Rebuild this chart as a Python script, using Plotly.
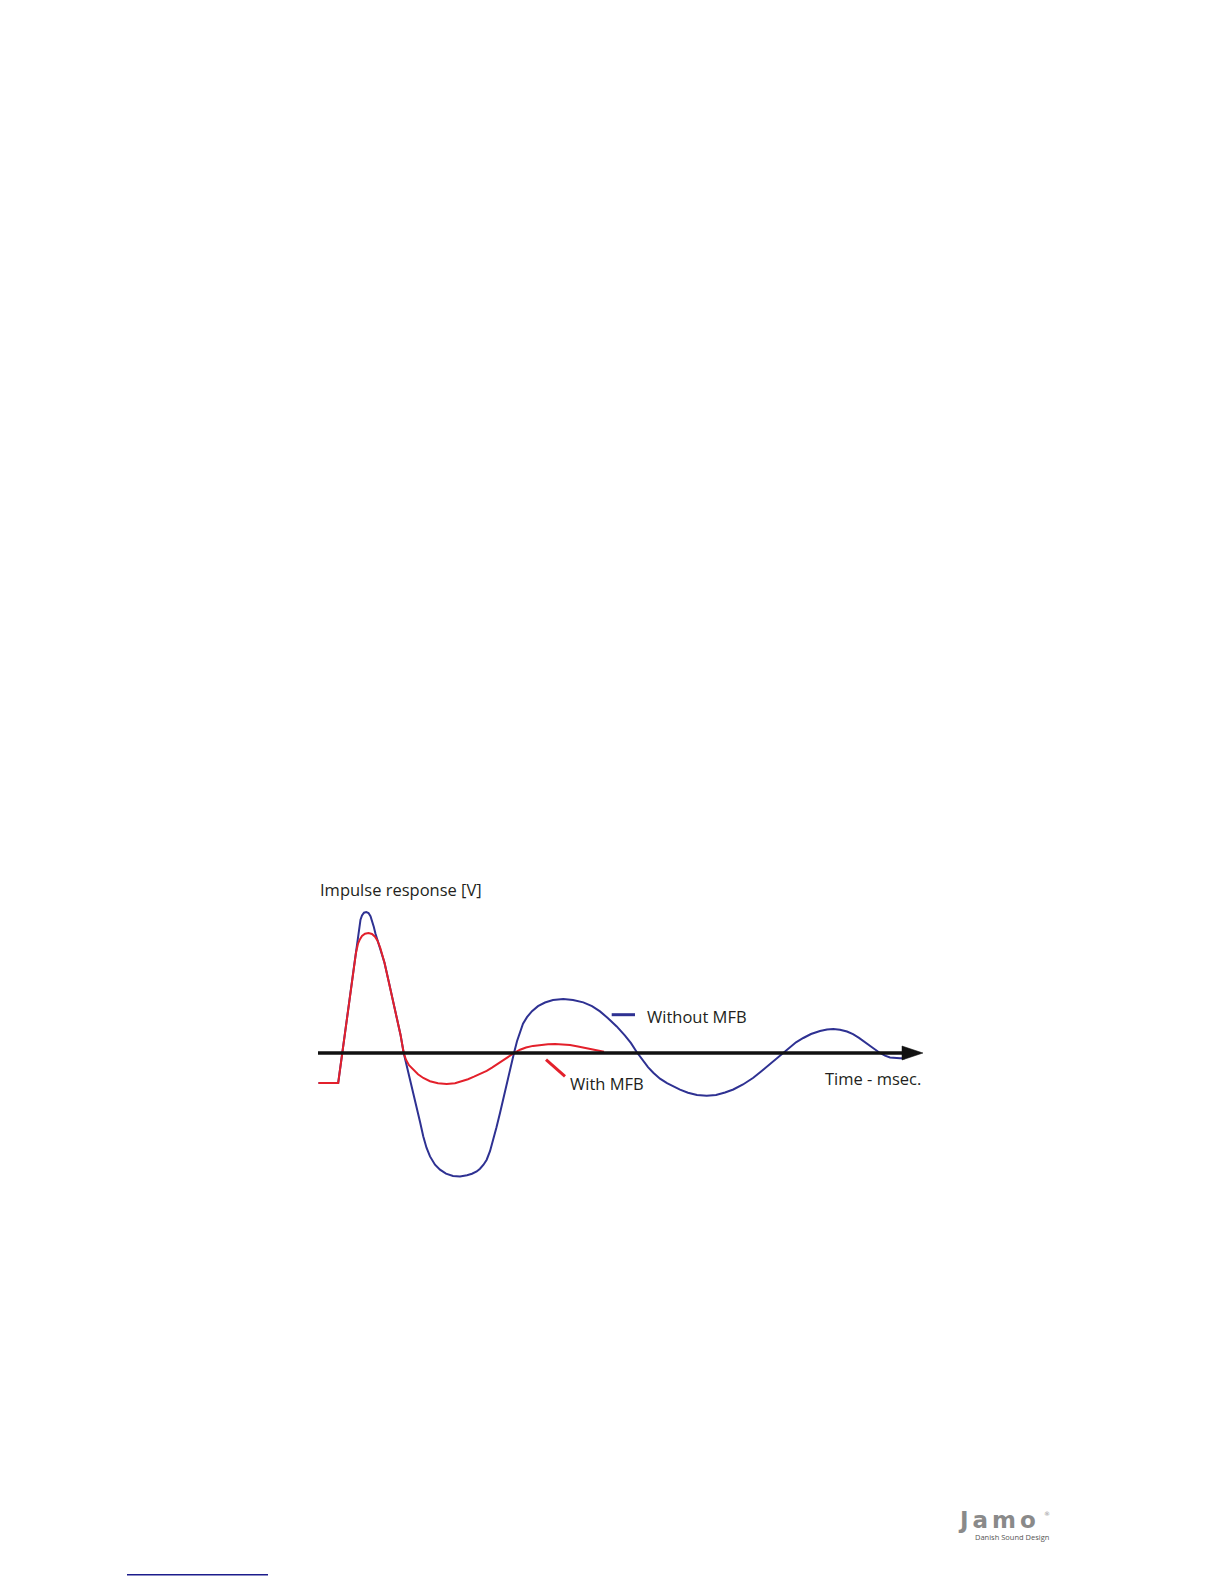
import plotly.graph_objects as go

# ---------------- data (arbitrary units) ----------------
blue_t = [0.1, 4.04, 7.2, 7.6, 7.9, 8.2, 8.5, 8.8, 9.2, 9.66, 10.1, 10.5, 10.8, 11.14, 11.5,
          11.9, 12.46, 13.3, 14.14, 15.0, 15.8, 16.5, 17.14, 17.6, 18.4, 19.1, 19.74, 20.4,
          21.06, 21.7, 22.4, 23.4, 24.4, 25.6, 27.0, 28.4, 29.8, 30.8, 31.74, 32.4, 33.1,
          33.74, 34.4, 35.06, 35.7, 36.4, 37.06, 37.74, 38.4, 39.2, 39.8, 40.4, 41.0, 41.8,
          42.8, 44.0, 45.4, 47.0, 49.06, 51.0, 53.06, 54.8, 56.4, 58.0, 59.74, 61.4, 62.6,
          63.74, 65.0, 66.0, 67.06, 68.4, 69.8, 71.06, 72.4, 74.0, 75.8, 77.74, 79.6, 81.4,
          83.06, 85.0, 87.06, 88.8, 90.4, 91.8, 93.1, 94.4, 95.6, 97.06, 98.6, 100.4, 101.8,
          103.06, 104.4, 105.8, 107.0, 108.2, 109.74, 111.0, 112.4, 113.4, 114.4, 115.4,
          116.4, 117.4]
blue_v = [-3.0, -3.0, 8.63, 10.23, 11.53, 12.63, 13.33, 13.76, 14.03, 14.1, 14.0, 13.68,
          13.28, 12.66, 11.93, 11.23, 10.5, 9.03, 7.16, 5.33, 3.53, 1.83, 0.0, -0.97, -2.37,
          -3.87, -5.34, -6.87, -8.34, -9.47, -10.34, -11.17, -11.67, -12.07, -12.3, -12.34,
          -12.22, -12.07, -11.84, -11.57, -11.17, -10.67, -9.82, -8.67, -7.42, -6.0, -4.52,
          -3.0, -1.62, 0.0, 1.18, 2.18, 2.93, 3.58, 4.18, 4.68, 5.05, 5.3, 5.4, 5.3, 5.06,
          4.68, 4.16, 3.48, 2.66, 1.73, 0.98, 0.1, -0.77, -1.42, -1.97, -2.57, -3.02, -3.34,
          -3.67, -3.97, -4.2, -4.27, -4.2, -3.95, -3.65, -3.15, -2.48, -1.77, -1.12, -0.52,
          0.0, 0.58, 1.07, 1.5, 1.9, 2.2, 2.35, 2.4, 2.33, 2.15, 1.88, 1.51, 1.0, 0.5, 0.0,
          -0.27, -0.44, -0.5, -0.52, -0.52]

red_t = [0.1, 4.04, 7.6, 8.0, 8.4, 8.8, 9.4, 10.1, 10.8, 11.4, 11.9, 12.46, 13.3, 14.14,
         15.0, 15.8, 16.5, 17.14, 17.6, 18.2, 19.0, 20.0, 21.06, 22.4, 24.0, 25.74, 27.4,
         28.8, 30.0, 31.2, 32.4, 33.74, 34.8, 36.0, 37.4, 39.2, 40.4, 41.6, 43.0, 44.4,
         46.0, 47.4, 48.8, 50.4, 52.0, 53.74, 55.4, 57.2]
red_v = [-3.0, -3.0, 10.03, 10.93, 11.38, 11.7, 11.93, 12.0, 11.9, 11.63, 11.23, 10.5, 9.03,
         7.16, 5.33, 3.53, 1.83, 0.0, -0.67, -1.22, -1.67, -2.12, -2.5, -2.82, -3.02, -3.09,
         -3.02, -2.84, -2.62, -2.37, -2.12, -1.79, -1.47, -1.07, -0.57, 0.0, 0.33, 0.55, 0.71,
         0.8, 0.87, 0.89, 0.87, 0.79, 0.65, 0.5, 0.33, 0.13]

series_names = ["Without MFB", "With MFB"]
y_title = "Impulse response [V]"
x_title = "Time - msec."
zero_label = "0"

BLUE = "#2E3192"
RED = "#E3202B"
INK = "#231F20"
FONT = "Open Sans"

# ---------------- page geometry ----------------
W, H = 1224, 1584
PX_L, PX_R = 318.0, 923.0
X_RANGE = [0, 121]
Y_RANGE = [-14, 17]
PX_ZERO = 1053.3
PX_PER_UNIT = 10.0
PX_T = PX_ZERO - Y_RANGE[1] * PX_PER_UNIT
PX_B = PX_ZERO - Y_RANGE[0] * PX_PER_UNIT


def paper_x(px):
    return (px - PX_L) / (PX_R - PX_L)


def paper_y(py):
    return (PX_B - py) / (PX_B - PX_T)


fig = go.Figure()
fig.add_trace(go.Scatter(x=blue_t, y=blue_v, mode="lines", name=series_names[0],
                         line=dict(color=BLUE, width=2), hoverinfo="skip"))
fig.add_trace(go.Scatter(x=red_t, y=red_v, mode="lines", name=series_names[1],
                         line=dict(color=RED, width=2), hoverinfo="skip"))

shapes = [
    # time axis
    dict(type="line", xref="x", yref="y", x0=0, x1=117.5, y0=0, y1=0,
         line=dict(color="#111111", width=3.5), layer="above"),
    # arrow head
    dict(type="path", xref="x", yref="y", xsizemode="pixel", ysizemode="pixel",
         xanchor=121, yanchor=0, path="M-21,-7 L0,0 L-21,7 Z",
         fillcolor="#111111", line=dict(color="#111111", width=0.5), layer="above"),
    # leader for Without MFB
    dict(type="line", xref="x", yref="y", x0=58.74, x1=63.4, y0=3.83, y1=3.83,
         line=dict(color=BLUE, width=3)),
    # leader for With MFB
    dict(type="line", xref="x", yref="y", x0=45.6, x1=49.4, y0=-0.67, y1=-2.34,
         line=dict(color=RED, width=3)),
    # underline bottom-left
    dict(type="line", xref="paper", yref="paper", x0=paper_x(127), x1=paper_x(268),
         y0=paper_y(1575), y1=paper_y(1575), line=dict(color="#1c1c8c", width=1.5)),
]

annotations = [
    dict(x=0, y=16.33, xref="x", yref="y", text=y_title, showarrow=False,
         xanchor="left", yanchor="middle", font=dict(size=16.5, color=INK, family=FONT)),
    dict(x=-2.66, y=0.23, xref="x", yref="y", text=zero_label, showarrow=False,
         xanchor="center", yanchor="middle", font=dict(size=15, color=INK, family=FONT)),
    dict(x=65.4, y=3.66, xref="x", yref="y", text=series_names[0], showarrow=False,
         xanchor="left", yanchor="middle", font=dict(size=16.5, color=INK, family=FONT)),
    dict(x=49.9, y=-3.07, xref="x", yref="y", text=series_names[1], showarrow=False,
         xanchor="left", yanchor="middle", font=dict(size=16.5, color=INK, family=FONT)),
    dict(x=121, y=-2.5, xref="x", yref="y", text=x_title, showarrow=False,
         xanchor="right", yanchor="middle", font=dict(size=16.5, color=INK, family=FONT)),
    # logo
    dict(x=paper_x(999), y=paper_y(1520), xref="paper", yref="paper",
         text='<span style="letter-spacing:4px">Jamo</span>', showarrow=False,
         xanchor="center", yanchor="middle",
         font=dict(size=23, color="#8a8a8a", family="DejaVu Sans", weight="bold")),
    dict(x=paper_x(1047), y=paper_y(1514), xref="paper", yref="paper", text="®",
         showarrow=False, xanchor="center", yanchor="middle",
         font=dict(size=6, color="#8c8c8c", family="DejaVu Sans")),
    dict(x=paper_x(1012), y=paper_y(1537.5), xref="paper", yref="paper",
         text="Danish Sound Design", showarrow=False, xanchor="center", yanchor="middle",
         font=dict(size=7.5, color="#555555", family=FONT)),
]

fig.update_layout(
    width=W, height=H,
    margin=dict(l=PX_L, r=W - PX_R, t=PX_T, b=H - PX_B, pad=0),
    paper_bgcolor="white", plot_bgcolor="white",
    showlegend=False,
    xaxis=dict(range=X_RANGE, visible=False, fixedrange=True),
    yaxis=dict(range=Y_RANGE, visible=False, fixedrange=True),
    shapes=shapes,
    annotations=annotations,
)

fig.write_html("out.html", config={"displayModeBar": False},
               post_script="document.body.style.margin='0';document.body.style.overflow='hidden';")
